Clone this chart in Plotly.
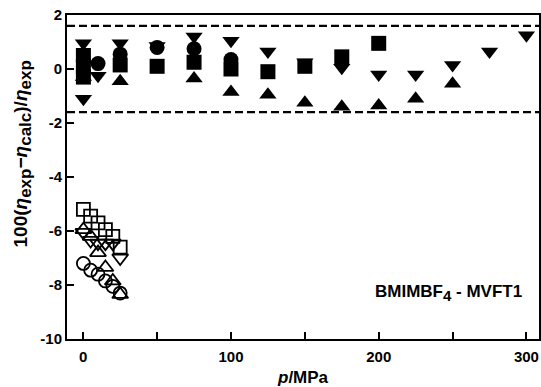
import plotly.graph_objects as go

# ---- data (p in MPa, deviation in %) ----
# filled symbols
sq_p = [0.1, 0.1, 0.1, 25, 50, 75, 100, 125, 150, 175, 200]
sq_v = [0.5, 0.1, -0.3, 0.15, 0.1, 0.25, 0.0, -0.1, 0.1, 0.45, 0.95]

ci_p = [0.1, 10, 25, 50, 75, 100]
ci_v = [0.3, 0.2, 0.55, 0.8, 0.75, 0.35]

up_p = [0.1, 25, 75, 100, 125, 150, 175, 200, 225, 250]
up_v = [-0.3, -0.45, -0.35, -0.85, -0.95, -1.25, -1.4, -1.35, -1.1, -0.55]

dn_p = [0.1, 0.1, 10, 25, 50, 75, 100, 125, 150, 175, 200, 225, 250, 275, 300]
dn_v = [0.95, -1.1, -0.25, 0.95, 0.85, 1.2, 1.05, 0.65, 0.25, 0.05, -0.2, -0.2, 0.15, 0.65, 1.25]

# open symbols
osq_p = [0.1, 5, 10, 15, 20, 25]
osq_v = [-5.2, -5.45, -5.7, -5.95, -6.2, -6.6]

oci_p = [0.1, 5, 10, 15, 20, 25]
oci_v = [-7.2, -7.45, -7.6, -7.85, -8.05, -8.3]

oup_p = [0.1, 5, 10, 15, 20, 25]
oup_v = [-5.95, -6.2, -6.8, -7.35, -7.85, -8.35]

odn_p = [0.1, 5, 10, 15, 20, 25]
odn_v = [-6.05, -6.35, -6.45, -6.45, -6.45, -7.0]

# reference limits (dashed)
limit_levels = [1.6, -1.6]

# axes
x_tickvals = [0, 50, 100, 150, 200, 250, 300]
x_ticktext = ["0", "", "100", "", "200", "", "300"]
y_tickvals = [-10, -8, -6, -4, -2, 0, 2]
y_ticktext = ["-10", "-8", "-6", "-4", "-2", "0", "2"]

FONT = "Arial, 'Liberation Sans', sans-serif"

fig = go.Figure()

def add(px, pv, sym, size, lw=0):
    fig.add_trace(go.Scatter(
        x=px, y=pv, mode="markers",
        marker=dict(symbol=sym, size=size, color="black",
                    line=dict(color="black", width=lw)),
        showlegend=False, cliponaxis=False, hoverinfo="skip"))

# open markers
add(osq_p, osq_v, "square-open", 13, 1.8)
add(odn_p, odn_v, "triangle-down-open", 14, 1.8)
add(oup_p, oup_v, "triangle-up-open", 14, 1.8)
add(oci_p, oci_v, "circle-open", 13, 1.8)
# filled markers
add(sq_p, sq_v, "square", 15)
add(up_p, up_v, "triangle-up", 15)
add(dn_p, dn_v, "triangle-down", 15)
add(ci_p, ci_v, "circle", 15)

for lv in limit_levels:
    fig.add_shape(type="line", xref="paper", x0=0, x1=1, yref="y", y0=lv, y1=lv,
                  line=dict(color="black", width=2.2, dash="8px,4px"))

fig.add_annotation(xref="paper", yref="paper", x=0.968, y=0.142,
                   xanchor="right", yanchor="middle", showarrow=False,
                   text="<b>BMIMBF<sub><span style='font-size:15px'>4</span></sub> - MVFT1</b>",
                   font=dict(family=FONT, size=17, color="black"))

def sub(t):
    return "<sub><span style='font-size:17px'>" + t + "</span></sub>"

ytitle = ("<b>100(<i>η</i>" + sub("exp") + "−<i>η</i>" + sub("calc") +
          ")/<i>η</i>" + sub("exp") + "</b>")

fig.add_annotation(xref="paper", yref="paper", x=-0.095, y=0.57,
                   xanchor="center", yanchor="middle", showarrow=False,
                   textangle=-90, text=ytitle,
                   font=dict(family=FONT, size=19, color="black"))

fig.add_annotation(xref="paper", yref="paper", x=0.5, y=-0.12,
                   xanchor="center", yanchor="middle", showarrow=False,
                   text="<b><i>p</i>/MPa</b>",
                   font=dict(family=FONT, size=17, color="black"))

fig.update_layout(
    width=541, height=387,
    margin=dict(l=67, r=2, t=15, b=48, autoexpand=False),
    paper_bgcolor="white", plot_bgcolor="white",
    font=dict(family=FONT, size=15, color="black"),
    hovermode=False,
    xaxis=dict(range=[-11, 308.5], tickvals=x_tickvals, ticktext=x_ticktext,
               ticks="inside", ticklen=7, tickwidth=2, tickcolor="black",
               showline=True, linewidth=2, linecolor="black", mirror=True,
               showgrid=False, zeroline=False, automargin=False,
               ticklabelstandoff=3,
               tickfont=dict(family=FONT, size=15, color="black", weight="bold")),
    yaxis=dict(range=[-10, 2], tickvals=y_tickvals, ticktext=y_ticktext,
               ticks="inside", ticklen=7, tickwidth=2, tickcolor="black",
               showline=True, linewidth=2, linecolor="black", mirror=True,
               showgrid=False, zeroline=False, automargin=False,
               tickfont=dict(family=FONT, size=15, color="black", weight="bold")),
)

fig.write_html("out.html", config={"displayModeBar": False},
               post_script="document.body.style.margin='0';document.body.style.padding='0';")
